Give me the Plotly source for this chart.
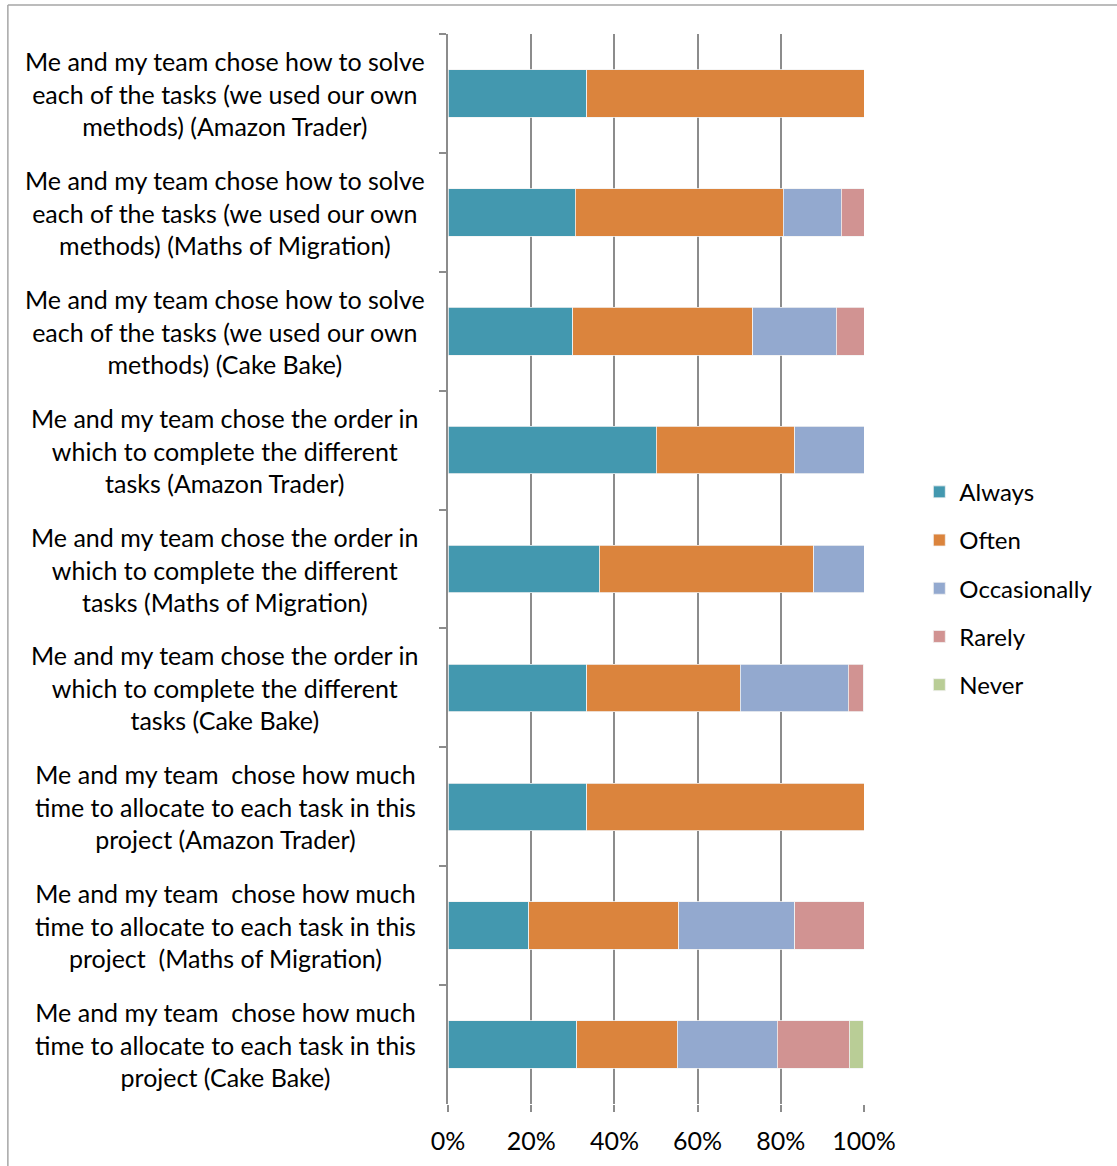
import plotly.graph_objects as go

categories = [
    "Me and my team chose how to solve<br>each of the tasks (we used our own<br>methods) (Amazon Trader)",
    "Me and my team chose how to solve<br>each of the tasks (we used our own<br>methods) (Maths of Migration)",
    "Me and my team chose how to solve<br>each of the tasks (we used our own<br>methods) (Cake Bake)",
    "Me and my team chose the order in<br>which to complete the different<br>tasks (Amazon Trader)",
    "Me and my team chose the order in<br>which to complete the different<br>tasks (Maths of Migration)",
    "Me and my team chose the order in<br>which to complete the different<br>tasks (Cake Bake)",
    "Me and my team  chose how much<br>time to allocate to each task in this<br>project (Amazon Trader)",
    "Me and my team  chose how much<br>time to allocate to each task in this<br>project  (Maths of Migration)",
    "Me and my team  chose how much<br>time to allocate to each task in this<br>project (Cake Bake)",
]

always       = [33.3, 30.6, 30.0, 50.0, 36.4, 33.3, 33.3, 19.4, 31.0]
often        = [66.7, 50.0, 43.3, 33.3, 51.5, 37.0, 66.7, 36.1, 24.1]
occasionally = [0.0, 13.9, 20.0, 16.7, 12.1, 25.9, 0.0, 27.8, 24.1]
rarely       = [0.0, 5.6, 6.7, 0.0, 0.0, 3.7, 0.0, 16.7, 17.2]
never        = [0.0, 0.0, 0.0, 0.0, 0.0, 0.0, 0.0, 0.0, 3.4]

series_names = ["Always", "Often", "Occasionally", "Rarely", "Never"]
series_values = [always, often, occasionally, rarely, never]
colors = ["#4398AF", "#DB843D", "#93A9CF", "#D19392", "#B9CD96"]

x_ticks = [0, 20, 40, 60, 80, 100]
x_tick_labels = ["0%", "20%", "40%", "60%", "80%", "100%"]

FONT = "Lato, 'Open Sans', sans-serif"
GRID = "#8C8C8C"

fig = go.Figure()
for name, vals, col in zip(series_names, series_values, colors):
    fig.add_trace(go.Bar(
        y=categories, x=vals, name=name, orientation="h",
        marker=dict(color=col, line=dict(color="#F2F2F2", width=0.8)),
        legendgroup=name, width=0.4,
    ))

for c in categories:
    fig.add_annotation(
        x=-0.536, xref="paper", y=c, yref="y", text=c, showarrow=False,
        xanchor="center", yanchor="middle", align="center",
        font=dict(family=FONT, size=25, color="#000000"),
    )

# outer frame lines
fig.add_shape(type="line", xref="paper", yref="paper",
              x0=-1.058, x1=1.7, y0=1.0271, y1=1.0271,
              line=dict(color="#A6A6A6", width=1.5))
fig.add_shape(type="line", xref="paper", yref="paper",
              x0=-1.058, x1=-1.058, y0=-0.1, y1=1.0271,
              line=dict(color="#A6A6A6", width=1.5))

fig.update_layout(
    width=1117, height=1166,
    margin=dict(l=448, r=253, t=34, b=62),
    barmode="stack",
    plot_bgcolor="white", paper_bgcolor="white",
    font=dict(family=FONT, size=24, color="#000000"),
    legend=dict(
        x=1.133, xanchor="left", y=0.482, yanchor="middle",
        traceorder="grouped", tracegroupgap=14,
        font=dict(family=FONT, size=24, color="#000000"),
    ),
    showlegend=True,
)
fig.update_xaxes(
    range=[0, 100], tickvals=x_ticks, ticktext=x_tick_labels,
    showgrid=True, gridcolor=GRID, gridwidth=2,
    ticks="outside", ticklen=7, tickcolor=GRID, tickwidth=2,
    ticklabelstandoff=8,
    showline=False, zeroline=False,
    tickfont=dict(family=FONT, size=25, color="#000000"),
)
fig.update_yaxes(
    categoryorder="array", categoryarray=categories,
    autorange="reversed", showticklabels=False,
    tickson="boundaries", ticks="outside", ticklen=7,
    tickcolor=GRID, tickwidth=2,
    showline=True, linecolor=GRID, linewidth=2,
    showgrid=False, zeroline=False,
)

fig.write_html("out.html")
